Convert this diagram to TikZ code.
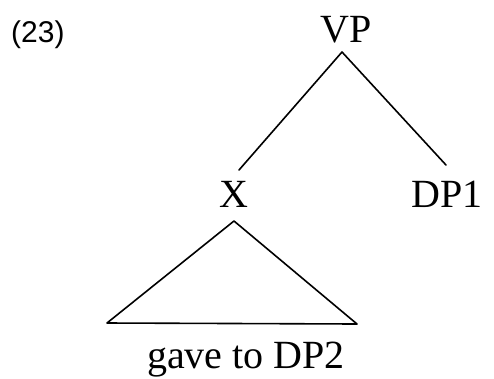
\documentclass[tikz,border=0pt]{standalone}
\usepackage{fontspec}
\setmainfont{Liberation Serif}
\newfontfamily\labelsans{Liberation Sans}
\begin{document}
\begin{tikzpicture}[x=1pt,y=-1pt,
  lbl/.style={inner sep=0pt, anchor=base, font=\fontsize{40}{44}\selectfont},
  branch/.style={line width=1.6pt, line cap=round, line join=round}]
\useasboundingbox (0,0) rectangle (494,378);
\node[inner sep=0pt, anchor=base west, font=\labelsans\fontsize{30}{33}\selectfont] (num) at (11,42) {(23)};
\node[lbl] (VP) at (346,42) {VP};
\node[lbl] (X) at (234,207) {X};
\node[lbl] (DP1) at (447,207) {DP1};
\node[lbl] (leaf) at (246,368) {gave to DP2};
\coordinate (apex) at (342,52);
\coordinate (xend) at (239,170);
\coordinate (dend) at (446,165);
\coordinate (tapex) at (234,221);
\coordinate (tl) at (107,323);
\coordinate (tr) at (357,324);
\draw[branch] (xend) -- (apex) -- (dend);
\draw[branch] (tapex) -- (tl) -- (tr) -- cycle;
\end{tikzpicture}
\end{document}
